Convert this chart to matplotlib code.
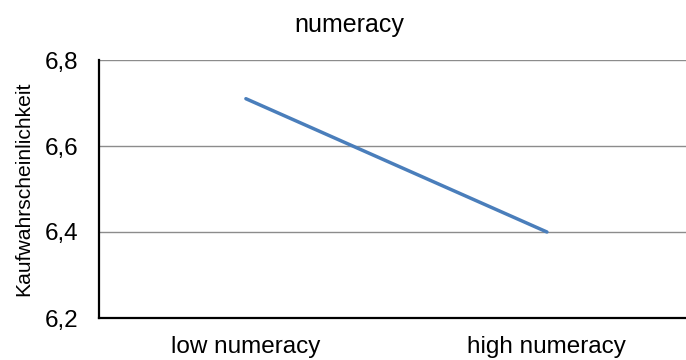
import matplotlib
matplotlib.use("Agg")
import matplotlib.pyplot as plt

categories = ["low numeracy", "high numeracy"]
values = [6.71, 6.40]
yticks = [6.2, 6.4, 6.6, 6.8]
ytick_labels = ["6,2", "6,4", "6,6", "6,8"]

plt.rcParams['font.family'] = ['Liberation Sans', 'DejaVu Sans']

fig = plt.figure(figsize=(6.86, 3.6), dpi=100)
# axes run to the right edge of the picture
ax = fig.add_axes([99 / 686, 42 / 360, 587 / 686, 258 / 360])

x = [0, 1]
ax.plot(x, values, color="#4a7ebb", linewidth=2.5, solid_capstyle="round")
ax.set_xlim(-0.488, 1.462)
ax.set_ylim(6.2, 6.8)
ax.set_xticks(x)
ax.set_xticklabels(categories, fontsize=17.5)
ax.set_yticks(yticks)
ax.set_yticklabels(ytick_labels, fontsize=17.5)
ax.tick_params(length=0)
ax.tick_params(axis="y", pad=15)
ax.tick_params(axis="x", pad=13)

ax.yaxis.grid(True, color="#8c8c8c", linewidth=1)
ax.set_axisbelow(True)
for side in ["top", "right"]:
    ax.spines[side].set_visible(False)
for side in ["left", "bottom"]:
    ax.spines[side].set_linewidth(1.6)
    ax.spines[side].set_color("black")

ax.set_ylabel("Kaufwahrscheinlichkeit", fontsize=15.2, labelpad=8)
fig.text(349 / 686, 1 - 25 / 360, "numeracy", ha="center", va="center", fontsize=18)

fig.savefig("out.png", dpi=100)
